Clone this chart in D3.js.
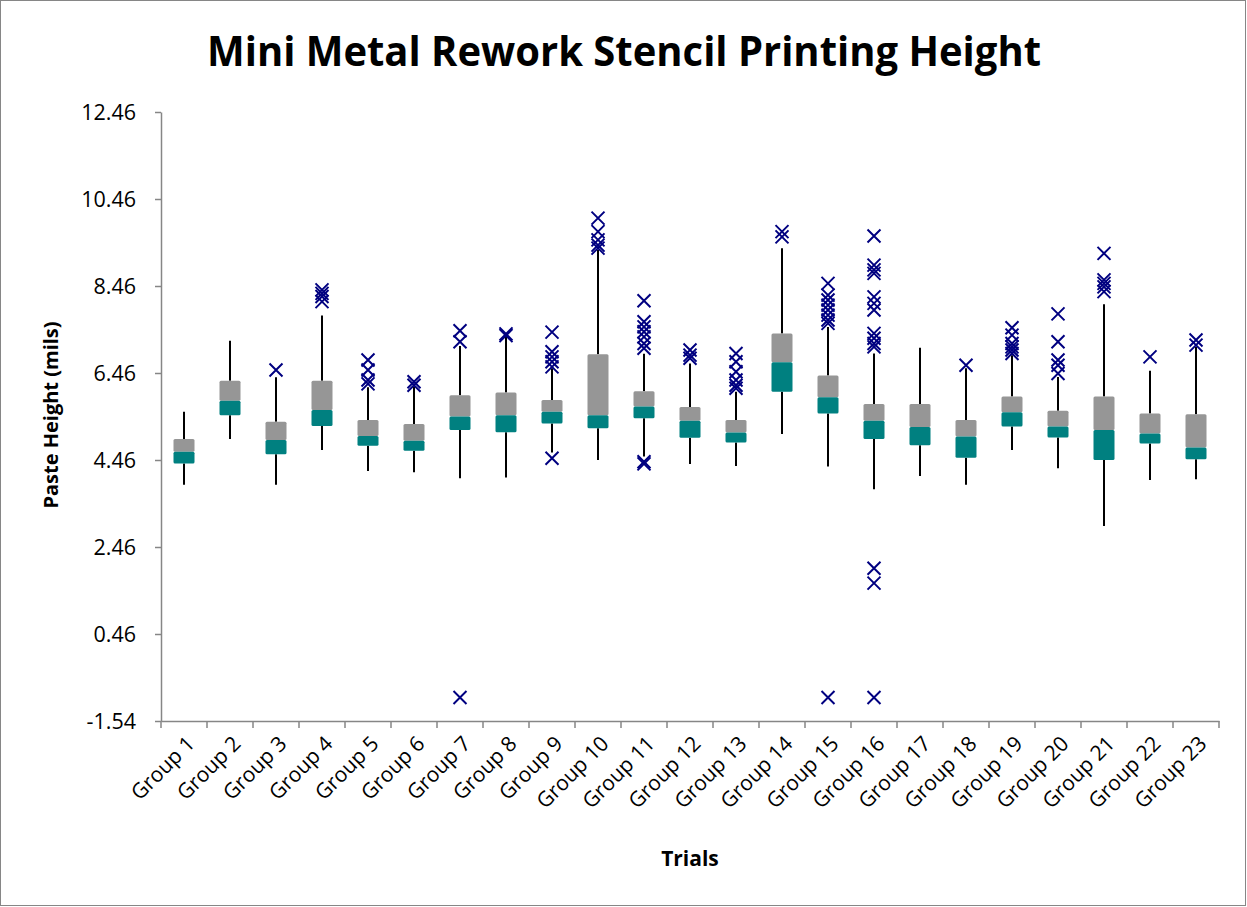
<!DOCTYPE html>
<html><head><meta charset="utf-8">
<script src="https://cdn.jsdelivr.net/npm/d3@7"></script>
<style>
body{margin:0;background:#fff;}
svg{display:block;}
text{font-family:"Open Sans","Noto Sans",sans-serif;fill:#000;}
</style></head>
<body>
<svg id="chart" width="1247" height="907"></svg>
<script>
const groups = ["Group 1","Group 2","Group 3","Group 4","Group 5","Group 6","Group 7","Group 8","Group 9","Group 10","Group 11","Group 12","Group 13","Group 14","Group 15","Group 16","Group 17","Group 18","Group 19","Group 20","Group 21","Group 22","Group 23"];
const whiskerLow  = [3.89,4.94,3.89,4.69,4.21,4.18,4.04,4.06,4.63,4.46,4.54,4.37,4.32,5.06,4.31,3.79,4.09,3.89,4.69,4.27,2.94,4.00,4.02];
const q1          = [4.38,5.49,4.59,5.24,4.79,4.67,5.15,5.10,5.30,5.19,5.42,4.97,4.86,6.03,5.53,4.94,4.80,4.51,5.23,4.98,4.46,4.84,4.48];
const median      = [4.65,5.82,4.92,5.61,5.01,4.90,5.46,5.49,5.57,5.49,5.69,5.36,5.09,6.71,5.90,5.36,5.22,5.00,5.56,5.23,5.15,5.07,4.75];
const q3          = [4.94,6.28,5.34,6.28,5.38,5.29,5.95,6.01,5.84,6.89,6.04,5.68,5.38,7.37,6.40,5.75,5.75,5.38,5.92,5.59,5.92,5.53,5.51];
const whiskerHigh = [5.57,7.20,6.36,7.78,6.13,6.14,7.08,7.30,6.57,9.29,6.90,6.68,6.03,9.33,7.52,6.91,7.04,6.57,6.87,6.37,8.04,6.51,7.06];
const outliers = [
  [],
  [],
  [6.53],
  [8.37,8.29,8.22,8.10],
  [6.76,6.53,6.30,6.21],
  [6.26,6.18],
  [7.43,7.18,-1.00],
  [7.36,7.32],
  [7.40,6.95,6.83,6.72,6.60,4.50],
  [10.02,9.71,9.52,9.40,9.33],
  [8.12,7.64,7.52,7.41,7.29,7.14,7.03,4.42,4.37],
  [6.99,6.87,6.80],
  [6.91,6.72,6.49,6.30,6.18,6.11],
  [9.71,9.59],
  [8.52,8.25,8.14,8.02,7.91,7.79,7.68,7.60,-1.00],
  [9.61,8.94,8.83,8.75,8.21,8.06,7.91,7.37,7.26,7.14,7.06,1.97,1.63,-1.00],
  [],
  [6.64],
  [7.50,7.33,7.14,7.06,6.99,6.91],
  [7.82,7.18,6.76,6.64,6.45],
  [9.21,8.60,8.52,8.44,8.33],
  [6.83],
  [7.22,7.10]
];
const yTicks = [-1.54,0.46,2.46,4.46,6.46,8.46,10.46,12.46];

const svg = d3.select("#chart");
svg.append("rect").attr("x",0.5).attr("y",0.5).attr("width",1245).attr("height",905)
  .attr("fill","#fff").attr("stroke","#868686").attr("stroke-width",1);

const x = d3.scaleBand().domain(groups).range([161,1219]).padding(0);
const y = d3.scaleLinear().domain([-1.54,12.46]).range([721,112]);

// y axis
const yAxis = svg.append("g").attr("transform","translate(161,0)")
  .call(d3.axisLeft(y).tickValues(yTicks).tickFormat(d => d3.format(".2f")(d).replace("−","-")).tickSize(6).tickSizeOuter(0));
yAxis.attr("font-size",null).attr("font-family",null);
yAxis.select(".domain").attr("stroke","#868686").attr("stroke-width",1.5);
yAxis.selectAll(".tick line").attr("stroke","#868686").attr("stroke-width",1.5);
yAxis.selectAll(".tick text").attr("x",-25).attr("dy","0.35em").style("font-size","21.5px").attr("fill","#000");

// x axis
const xAxis = svg.append("g").attr("transform","translate(0,721)")
  .call(d3.axisBottom(x).tickSize(0).tickSizeOuter(0));
xAxis.attr("font-size",null).attr("font-family",null);
xAxis.select(".domain").attr("stroke","#868686").attr("stroke-width",1.5);
xAxis.selectAll(".tick text")
  .style("font-size","21px").attr("fill","#000")
  .attr("text-anchor","end").attr("dy",null).attr("y",0)
  .attr("transform", "translate(12,24) rotate(-45)");
// category boundary ticks
const bounds = groups.map(g => x(g)).concat([x.range()[1]]);
svg.append("g").selectAll("line").data(bounds).join("line")
  .attr("x1",d=>d).attr("x2",d=>d).attr("y1",721).attr("y2",728)
  .attr("stroke","#868686").attr("stroke-width",1.5);

const bw = 21;
const g = svg.append("g");
groups.forEach((grp,i) => {
  const cx = x(grp) + x.bandwidth()/2;
  g.append("line").attr("x1",cx).attr("x2",cx).attr("y1",y(q3[i])).attr("y2",y(whiskerHigh[i]))
    .attr("stroke","#000").attr("stroke-width",2);
  g.append("line").attr("x1",cx).attr("x2",cx).attr("y1",y(q1[i])).attr("y2",y(whiskerLow[i]))
    .attr("stroke","#000").attr("stroke-width",2);
  g.append("rect").attr("x",cx-bw/2).attr("width",bw)
    .attr("y",y(q3[i])).attr("height",y(median[i])-y(q3[i]))
    .attr("fill","#969696").attr("rx",1.5);
  g.append("rect").attr("x",cx-bw/2).attr("width",bw)
    .attr("y",y(median[i])).attr("height",y(q1[i])-y(median[i]))
    .attr("fill","#008080").attr("rx",1.5);
  const s = 6.5;
  outliers[i].forEach(v => {
    const py = y(v);
    g.append("path").attr("d",`M${cx-s},${py-s}L${cx+s},${py+s}M${cx-s},${py+s}L${cx+s},${py-s}`)
      .attr("stroke","#000080").attr("stroke-width",2).attr("fill","none");
  });
});

svg.append("text").attr("x",624).attr("y",66).attr("text-anchor","middle")
  .style("font-size","41px").style("font-weight","bold")
  .attr("textLength",834).attr("lengthAdjust","spacingAndGlyphs")
  .text("Mini Metal Rework Stencil Printing Height");
svg.append("text").attr("transform","translate(58,415) rotate(-90)").attr("text-anchor","middle")
  .style("font-size","20px").style("font-weight","bold")
  .text("Paste Height (mils)");
svg.append("text").attr("x",690).attr("y",866).attr("text-anchor","middle")
  .style("font-size","21px").style("font-weight","bold")
  .text("Trials");
</script>
</body></html>
